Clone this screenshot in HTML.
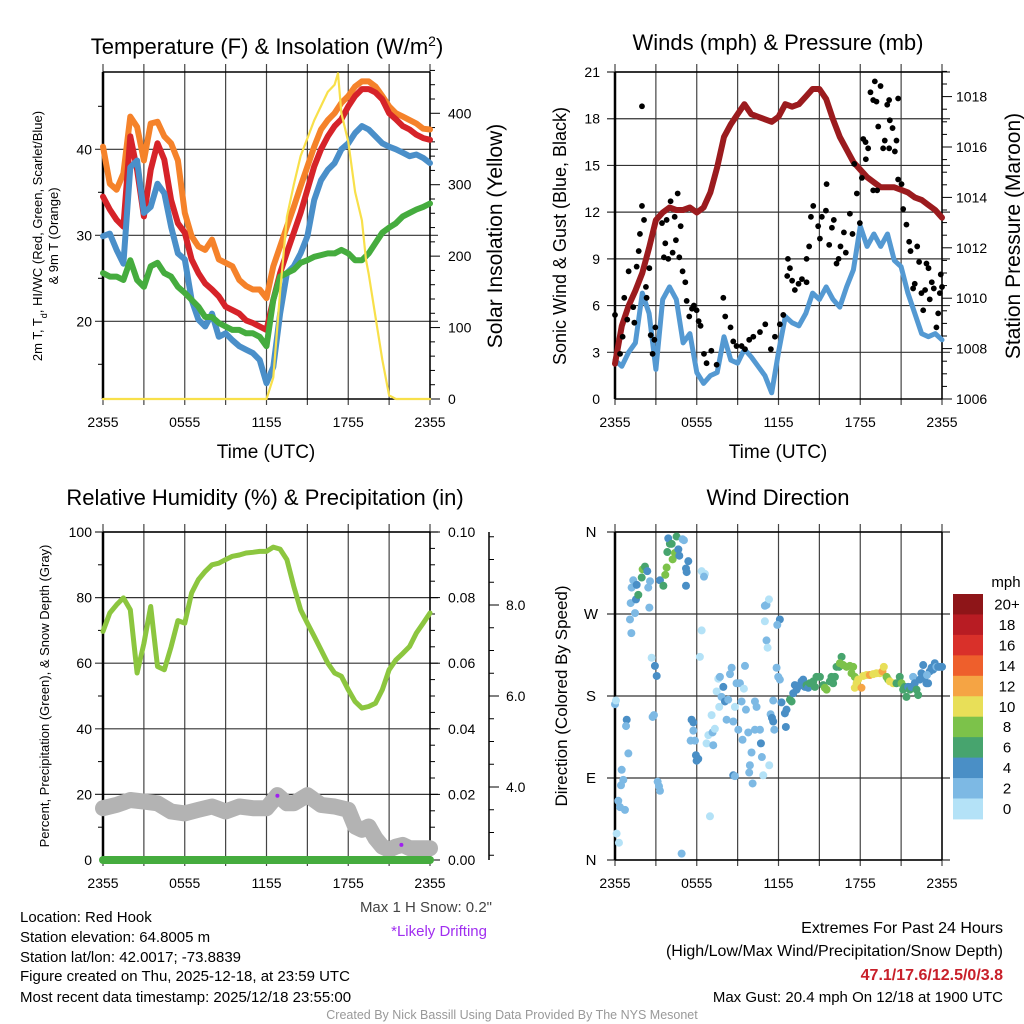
<!DOCTYPE html>
<html><head><meta charset="utf-8"><style>
html,body{margin:0;padding:0;background:#fff;}
svg{display:block;font-family:"Liberation Sans",Arial,sans-serif;}
</style></head><body>
<svg id="root" width="1024" height="1024" viewBox="0 0 1024 1024" xmlns="http://www.w3.org/2000/svg">
<rect x="0" y="0" width="1024" height="1024" fill="#fff"/>
<text x="267" y="54" font-size="22" text-anchor="middle">Temperature (F) &amp; Insolation (W/m<tspan dy="-8" font-size="14">2</tspan><tspan dy="8">)</tspan></text>
<text x="778" y="50" font-size="22" text-anchor="middle">Winds (mph) &amp; Pressure (mb)</text>
<text x="265" y="505" font-size="22" text-anchor="middle">Relative Humidity (%) &amp; Precipitation (in)</text>
<text x="778" y="505" font-size="22" text-anchor="middle">Wind Direction</text>
<text x="266" y="458" font-size="19" text-anchor="middle">Time (UTC)</text>
<text x="778" y="458" font-size="19" text-anchor="middle">Time (UTC)</text>
<text transform="translate(42,236) rotate(-90)" font-size="13" text-anchor="middle">2m T, T<tspan baseline-shift="sub" font-size="9">d</tspan>, HI/WC (Red, Green, Scarlet/Blue)</text>
<text transform="translate(58,236) rotate(-90)" font-size="13" text-anchor="middle">&amp; 9m T (Orange)</text>
<text transform="translate(502,236) rotate(-90)" font-size="21" text-anchor="middle">Solar Insolation (Yellow)</text>
<text transform="translate(566,236) rotate(-90)" font-size="18" text-anchor="middle">Sonic Wind &amp; Gust (Blue, Black)</text>
<text transform="translate(1020,236) rotate(-90)" font-size="21" text-anchor="middle">Station Pressure (Maroon)</text>
<text transform="translate(49,696) rotate(-90)" font-size="13" text-anchor="middle">Percent, Precipitation (Green), &amp; Snow Depth (Gray)</text>
<text transform="translate(567,696) rotate(-90)" font-size="17" text-anchor="middle">Direction (Colored By Speed)</text>
<g font-size="15">
<text x="20" y="922">Location: Red Hook</text>
<text x="20" y="942">Station elevation: 64.8005 m</text>
<text x="20" y="962">Station lat/lon: 42.0017; -73.8839</text>
<text x="20" y="981">Figure created on Thu, 2025-12-18, at 23:59 UTC</text>
<text x="20" y="1002">Most recent data timestamp: 2025/12/18 23:55:00</text>
</g>
<text x="492" y="912" font-size="15" fill="#444" text-anchor="end">Max 1 H Snow: 0.2"</text>
<text x="487" y="936" font-size="15" fill="#a02ef0" text-anchor="end">*Likely Drifting</text>
<text x="1003" y="933" font-size="16" text-anchor="end">Extremes For Past 24 Hours</text>
<text x="1003" y="956" font-size="16" text-anchor="end">(High/Low/Max Wind/Precipitation/Snow Depth)</text>
<text x="1003" y="980" font-size="16" font-weight="bold" fill="#c8202a" text-anchor="end">47.1/17.6/12.5/0/3.8</text>
<text x="1003" y="1002" font-size="15" text-anchor="end">Max Gust: 20.4 mph On 12/18 at 1900 UTC</text>
<text x="512" y="1019" font-size="12.5" fill="#999" text-anchor="middle">Created By Nick Bassill Using Data Provided By The NYS Mesonet</text>
<text x="1006" y="587" font-size="15" text-anchor="middle">mph</text>
</svg>
<script>
// ---- data ----
const hours = [0,0.5,1,1.5,2,2.5,3,3.5,4,4.5,5,5.5,6,6.5,7,7.5,8,8.5,9,9.5,10,10.5,11,11.5,12,12.5,13,13.5,14,14.5,15,15.5,16,16.5,17,17.5,18,18.5,19,19.5,20,20.5,21,21.5,22,22.5,23,23.5,24];
const temp2m = [34.5,33,31.8,31,41.5,37.6,32.2,37.6,40.7,38.8,34.1,31.4,30.3,27.2,25.6,24.4,23.7,22.9,21.7,21.3,20.9,20.1,19.8,19.4,19,22.5,25.6,28,30.3,32.6,35.3,38,40,41.5,42.7,43.5,45,46.2,47,47,46.6,45.8,44.2,43.5,42.7,42.3,41.7,41.3,41.1];
const temp9m = [40.3,36,35.3,37.2,43.8,42.6,38.7,43,43.2,41.5,40.7,38.7,32.6,29.9,28.7,28.3,29.5,27.2,26.8,26.4,24.8,24.1,23.7,23.7,22.7,26.4,28.7,31,33.3,35.7,38,40.3,42.3,43.4,44.2,45.4,46.2,47.3,47.9,47.9,47.3,46.2,45,44.2,43.8,43.4,43,42.4,42.3];
const windChill = [29.9,30.2,28.3,26.7,37.9,38.7,32.6,33.3,36,34.9,31,27.9,27.2,22.5,20.2,19.4,20.9,18.2,18.6,17.8,17.1,16.7,16.3,15.5,12.8,14.7,20.9,25.6,26.4,27.9,29.9,34.1,36.4,37.6,38.4,40,40.7,41.9,42.7,42.3,41.5,40.7,40.3,40,39.6,39.2,39.4,39,38.4];
const dewPoint = [25.6,25.2,25.2,24.8,27.1,24.8,24,26.4,26.8,25.6,25.2,24,23.3,22.5,21.7,20.5,20.5,19.8,19.4,19,19,18.6,18.6,18.2,17.1,22.5,25.2,25.6,26,26.8,27.1,27.5,27.7,27.9,27.9,28.3,27.9,27.1,27.1,27.9,29.1,30.3,30.9,31.4,32.2,32.6,33,33.3,33.7];
const solarHours = [0,12,12.5,13,13.5,14,14.5,15,15.5,16,16.5,17,17.25,17.5,18,18.5,19,19.3,19.5,20,20.5,21,21.5,24];
const solar = [0,0,30,150,255,300,340,365,390,410,430,440,456,400,360,290,250,195,175,115,55,5,0,0];
const pressure = [1007.4,1008.9,1009.7,1010.3,1011,1012,1013.1,1013.4,1013.6,1013.5,1013.5,1013.6,1013.4,1013.6,1014.2,1015.2,1016.4,1016.9,1017.3,1017.7,1017.3,1017.2,1017.1,1017,1017.2,1017.7,1017.6,1017.7,1018,1018.3,1018.3,1017.9,1017.1,1016.4,1015.9,1015.4,1015.1,1014.8,1014.6,1014.4,1014.4,1014.4,1014.3,1014.2,1014,1013.9,1013.7,1013.5,1013.2];
const windSpeed = [2.5,2.1,3,3.6,6.8,5.5,1.9,6.4,7.2,6.4,3.6,4.2,1.7,1,1.5,1.7,4,2.5,2.3,3.2,2.7,2.1,1.5,0.4,3,5.3,4.9,4.7,5.5,6.8,6.4,7.2,6.4,5.9,7.2,8.3,11.1,9.8,10.6,9.8,10.6,8.9,8.5,6.8,5.5,4.2,4,4.2,3.8];
const gustHour = [0,0.37,0.56,0.68,0.9,1,1.34,1.42,1.59,1.74,1.83,1.98,2.13,1.98,2.27,2.32,2.52,2.62,2.76,2.89,2.96,3.45,3.69,3.59,3.79,3.91,4.08,4.23,4.38,4.47,4.6,4.72,4.82,4.96,5.16,5.26,5.45,5.65,5.79,5.99,6.14,6.28,6.53,6.72,7.07,7.46,7.95,8.09,8.48,8.68,8.92,9.29,9.54,9.85,10.15,10.64,11.03,11.44,11.74,12.1,12.35,12.69,12.84,12.64,13,13.2,13.47,13.72,14.06,14.25,14.06,14.38,14.55,14.91,15.04,15.18,15.48,15.53,15.72,15.92,16.06,16.26,16.41,16.55,16.8,16.94,17.24,17.43,17.56,17.75,17.97,18.12,18.22,18.39,18.58,18.75,18.95,19.07,19.19,19.32,19.49,19.68,19.8,19.98,20.12,20.17,20.37,20.54,20.66,20.78,21.03,21.15,21.39,21.59,21.69,21.88,22,22.18,22.32,22.49,22.62,22.76,22.86,23.01,23.1,23.25,23.4,23.59,23.72,23.91,23.84,24,19.24,18.41,20.12,20.78,18.95];
const gustMph = [5.4,2.9,4,6.5,5.1,8.2,5.9,4.9,8.5,9.5,10.6,12.4,11.5,18.8,7.2,6.5,8.4,4.1,2.9,3.8,4.6,11.3,10,9.1,11.5,9,12.7,9.4,11.7,10.2,13.2,9.1,11.1,8.2,7.5,6.3,5.3,5.8,6,5.7,5,4.7,2.9,2.3,3.1,2.2,6.5,5.3,4.6,3.7,3.4,3.4,3.2,3.8,4,4.3,4.8,3.2,4,4.8,5.4,9,8.4,7.9,7.6,7,7.4,7.7,7.5,9.8,9,11.7,12.4,11.1,10.3,11.7,12.1,13.8,9.9,11,11.5,8.7,9,9.8,10.7,9.4,11.9,10.6,15.1,13.2,11.3,14.2,16.7,16.5,16.1,19.7,19.2,20.4,19.1,17.5,20.1,16.1,16.6,18.9,16.1,17.9,17.4,15.9,16.6,14.1,13.8,12.2,11.2,10.1,9.5,7.1,7.4,9.8,8.8,6.8,5.7,7,8.7,8.4,6.4,7.5,7.1,4.6,5.5,8,6.8,7.2,13.4,15.4,19.2,19.3,13.4];
const humidity = [69.7,75.3,77.8,79.9,76.3,57,66,77.3,59,58,65,73,72.2,81.4,85.5,88,90,90.5,91.6,92.6,93,93.6,93.8,94.1,94.1,95.4,94.8,91.6,83.4,76.3,72.2,68.2,64.1,60,57,56,51.9,48.3,46.3,46.8,47.8,51.9,58,61,63,65.1,69.2,72.2,75.3];
const snowHours = [0,1,2,3,4,5,6,7,8,9,10,11,12,12.8,13.5,14,15,16,17,18,18.5,19,19.5,20,20.5,21,21.5,22,22.5,23,24];
const snowPct = [15.8,16.8,18.3,17.8,17.3,14.8,14.2,15.3,16.3,14.8,16.3,15.8,15.8,19.8,17.3,17.3,19.8,16.8,16.3,15.3,10.2,9.2,10.2,6.6,4.1,3.1,4.1,4.6,3.6,3.6,3.6];
const driftHours = [12.8,21.9];
const driftPct = [19.6,4.6];
const precipHours = [0,24];
const precipIn = [0,0];
const dirHour = [0,0.07,0.86,0.81,0.98,0.49,0.61,0.44,0.24,0.37,0.73,0.12,0.29,1.1,1.2,1.15,1.47,1.54,1.71,1.22,1.34,1.59,1.96,2.03,2.2,2.37,2.57,2.44,2.52,2.69,2.93,3.06,2.86,2.76,3.13,3.23,3.3,3.3,3.55,3.69,3.79,3.84,4.03,4.23,4.4,4.52,3.91,4.16,4.65,4.72,4.96,5.06,5.38,5.21,5.26,5.21,4.89,5.62,5.75,5.75,5.55,5.87,5.94,5.99,6.11,6.36,6.6,6.53,6.36,6.23,6.72,6.97,6.85,7.21,7.16,7.33,7.09,7.46,7.58,7.7,7.95,7.82,8.07,7.65,8.19,8.31,8.44,8.56,8.68,8.8,8.68,8.8,9.05,9.29,8.92,9.17,9.46,9.54,9.36,9.61,9.78,10.02,9.9,9.85,10.1,10.27,10.39,10.27,10.64,10.71,10.78,10.88,11.32,11,11.12,11.3,11,11.12,11.2,11.86,11.98,12.1,11.91,12.1,11.42,11.52,11.61,11.69,11.61,12.22,12.54,12.47,12.59,12.84,12.96,13.08,13.2,13.33,13.52,13.69,13.81,13.94,14.06,14.18,14.3,14.55,14.67,14.79,15.04,15.28,15.53,15.4,15.77,15.89,16.01,16.14,16.26,16.45,16.63,16.5,16.75,16.99,17.24,17.48,17.6,17.36,17.73,17.6,17.85,18.09,18.22,18.46,18.7,18.95,19.19,19.44,19.63,19.73,19.93,20.05,20.17,20.42,20.66,20.9,21.03,21.15,21.27,21.39,21.52,21.64,21.76,21.88,22,22.13,22.25,22.37,22.49,22.62,22.74,22.86,22.98,23.1,23.23,23.35,23.47,23.59,23.72,23.84,24,22.9];
const dirDeg = [171,175,154,147,117,99,88,82,65,58,55,29,19,264,249,282,271,286,291,299,307,302,310,319,322,317,306,299,277,222,213,202,159,157,86,81,76,307,301,313,321,338,347,330,337,355,353,347,341,334,352,351,328,320,316,301,7,154,151,142,131,131,115,109,111,317,314,311,252,223,128,48,137,126,140,144,159,185,199,201,190,179,174,168,154,176,204,211,152,168,93,92,143,174,194,194,188,213,132,165,140,118,104,96,84,174,168,143,143,128,113,93,104,262,280,286,279,241,233,211,201,264,258,198,160,156,152,143,175,173,146,161,165,176,174,183,192,187,191,196,198,190,192,189,194,196,190,201,201,192,187,189,196,201,194,201,212,212,223,216,214,212,213,212,201,205,194,189,198,189,202,203,203,204,205,205,207,212,201,198,196,194,194,201,194,187,190,179,190,187,190,201,194,187,181,198,205,214,201,194,194,207,211,209,216,212,212,212,212,203];
const dirSpeed = [3,1,5,3,3,3,3,3,3,3,3,1,1,3,3,3,3,5,7,3,3,5,7,9,7,5,3,3,3,1,5,5,3,3,3,3,3,5,7,9,9,7,7,9,9,7,5,7,5,5,3,3,5,5,5,5,3,5,5,3,3,3,5,5,5,1,1,3,1,1,1,1,1,3,3,1,1,1,1,3,5,3,5,1,3,3,3,3,3,1,5,3,3,3,3,3,1,3,3,3,3,3,3,3,3,3,3,3,3,5,3,1,1,1,3,1,3,3,1,3,3,5,3,3,3,5,5,3,3,5,5,5,5,7,7,5,5,5,5,5,5,5,7,5,7,7,7,7,7,7,9,9,7,7,7,7,7,7,7,9,9,9,9,9,9,9,11,11,11,13,11,11,13,11,11,11,13,11,9,9,11,11,7,7,9,7,7,7,5,7,5,3,5,7,7,5,5,5,5,5,5,5,5,5,5,3,5,5,5,3];
const xTickLabels = ["2355","0555","1155","1755","2355"];
const speedBins = ["20+","18","16","14","12","10","8","6","4","2","0"];
const binColors = ["#8e1518","#b81c23","#d9302a","#ee5f2c","#f5a444","#e8df58","#7cc24a","#47a46e","#4a8fc6","#7db9e4","#b4e2f7"];
const dirLabels = ["N","E","S","W","N"];

// ---- scales ----
const NS="http://www.w3.org/2000/svg";
const root=document.getElementById('root');
const xL=h=>103+h*13.625, xR=h=>615+h*13.625;
const yT=v=>321.3-(v-20)*8.6, yS=v=>399-v*0.7143;
const yW=v=>399-v*15.57, yP=v=>399-(v-1006)*25.2;
const yRH=v=>860-v*3.28, yPr=v=>860-v*3280, ySn=v=>787-(v-4)*45.5;
const yD=v=>860-v*0.9111;
function mk(tag,attrs,parent){const e=document.createElementNS(NS,tag);for(const k in attrs)e.setAttribute(k,attrs[k]);(parent||root).appendChild(e);return e;}
function grp(name){const g=mk('g',{});


return g;}
function line(g,x1,y1,x2,y2,st,w){return mk('line',{x1,y1,x2,y2,stroke:st,'stroke-width':w},g);}
function txt(g,x,y,s,anchor,size){const t=mk('text',{x,y,'font-size':size||14,'text-anchor':anchor},g);t.textContent=s;return t;}
function pathFrom(xs,ys,fx,fy){return xs.map((h,i)=>(i?'L':'M')+fx(h).toFixed(1)+','+fy(ys[i]).toFixed(1)).join('');}

// ---- frames ----
function panelFrame(name,x0,x1,y0,y1,xf,hLines,hFn){
  const g=grp(name);
  for(let h=0;h<=24;h+=3){const x=xf(h);line(g,x,y0-8,x,y1+6,'#444',1.2);}
  hLines.forEach(v=>line(g,x0-8,hFn(v),x1+8,hFn(v),'#333',1.2));
  line(g,x0,y0,x1,y0,'#000',1.5);line(g,x0,y1,x1,y1,'#000',1.5);
  line(g,x0,y0,x0,y1,'#000',2.5);line(g,x1,y0,x1,y1,'#000',1.5);
  xTickLabels.forEach((s,i)=>{const t=txt(g,xf(i*6),y1+28,s,'middle',14);
  
  });
  return g;
}
// Panel 1
const g1=panelFrame('temperature-axes',103,430,72,399,xL,[20,30,40],yT);
[15,25,35,45].forEach(v=>line(g1,98,yT(v),103,yT(v),'#000',1));
[20,30,40].forEach(v=>txt(g1,92,yT(v)+5,String(v),'end'));
for(let v=0;v<=460;v+=20){line(g1,430,yS(v),v%100===0?440:435,yS(v),'#000',1);}
[0,100,200,300,400].forEach(v=>txt(g1,448,yS(v)+5,String(v),'start'));
// Panel 2
const g2=panelFrame('wind-axes',615,942,72,399,xR,[3,6,9,12,15,18,21],yW);
for(let v=0;v<=21;v+=3)txt(g2,600,yW(v)+5,String(v),'end');
for(let v=1006;v<=1019.2;v+=0.5){line(g2,942,yP(v),Math.abs(v%2)<0.01?952:947,yP(v),'#000',1);}
for(let v=1006;v<=1018;v+=2)txt(g2,956,yP(v)+5,String(v),'start');
// Panel 3
const g3=panelFrame('humidity-axes',103,430,532,860,xL,[20,40,60,80,100],yRH);
for(let v=10;v<100;v+=20)line(g3,98,yRH(v),103,yRH(v),'#000',1);
for(let v=0;v<=100;v+=20)txt(g3,92,yRH(v)+5,String(v),'end');
for(let v=0;v<=0.1001;v+=0.005)line(g3,430,yPr(v),Math.round(v*1000)%20===0?440:435,yPr(v),'#000',1);
for(let v=0;v<=0.1001;v+=0.02)txt(g3,448,yPr(v)+5,v.toFixed(2),'start');
const gs=grp('snow-depth-axis');
line(gs,489,532,489,860,'#000',1.5);
for(let v=2.5;v<=9.8;v+=0.5){const y=ySn(v);if(y>=532&&y<=860)line(gs,489,y,v%2===0?499:494,y,'#000',1);}
[4,6,8].forEach(v=>txt(gs,506,ySn(v)+5,v.toFixed(1),'start'));
// Panel 4
const g4=panelFrame('direction-axes',615,942,532,860,xR,[0,90,180,270,360],yD);
dirLabels.forEach((s,i)=>txt(g4,591,yD(i*90)+5,s,'middle',15));

// ---- series ----
const s1=grp('temperature-series');
function drawLine(g,xs,ys,fx,fy,col,w,name){const p=mk('path',{d:pathFrom(xs,ys,fx,fy),fill:'none',stroke:col,'stroke-width':w,'stroke-linejoin':'round','stroke-linecap':'round'},g);


return p;}
drawLine(s1,hours,temp9m,xL,yT,'#f5822a',6,'temp-9m-line');
drawLine(s1,hours,temp2m,xL,yT,'#d62329',6,'temp-2m-line');
drawLine(s1,hours,windChill,xL,yT,'#4a8fc9',6,'wind-chill-line');
drawLine(s1,hours,dewPoint,xL,yT,'#45ac3e',6,'dewpoint-line');
drawLine(s1,solarHours,solar,xL,yS,'#f8e04a',2.2,'solar-line');

const s2=grp('wind-series');
drawLine(s2,hours,windSpeed,xR,yW,'#5499d2',5,'wind-speed-line');
drawLine(s2,hours,pressure,xR,yP,'#9b1b1e',6,'pressure-line');
gustHour.forEach((h,i)=>{const c=mk('circle',{cx:xR(h),cy:yW(gustMph[i]),r:2.9,fill:'#000'},s2);

});

const s3=grp('humidity-series');
drawLine(s3,hours,humidity,xL,yRH,'#8cc63f',5,'humidity-line');
drawLine(s3,snowHours,snowPct,xL,yRH,'#b3b3b3',16,'snow-depth-line');
drawLine(s3,precipHours,precipIn,xL,yPr,'#45ac3e',8,'precip-line');
driftHours.forEach((h,i)=>{const c=mk('circle',{cx:xL(h),cy:yRH(driftPct[i]),r:2,fill:'#a020f0'},s3);

});

const s4=grp('direction-series');
dirHour.forEach((h,i)=>{const b=Math.min(10,Math.floor(dirSpeed[i]/2));const c=mk('circle',{cx:xR(h),cy:yD(dirDeg[i]),r:4,fill:binColors[10-b]},s4);

});

// colorbar
const cb=grp('speed-colorbar');
speedBins.forEach((s,i)=>{const y=594+i*20.45;const r=mk('rect',{x:953,y:y,width:30,height:20.9,fill:binColors[i]},cb);


const t=txt(cb,1007,y+15.5,s,'middle',15);

});
</script>
</body></html>
